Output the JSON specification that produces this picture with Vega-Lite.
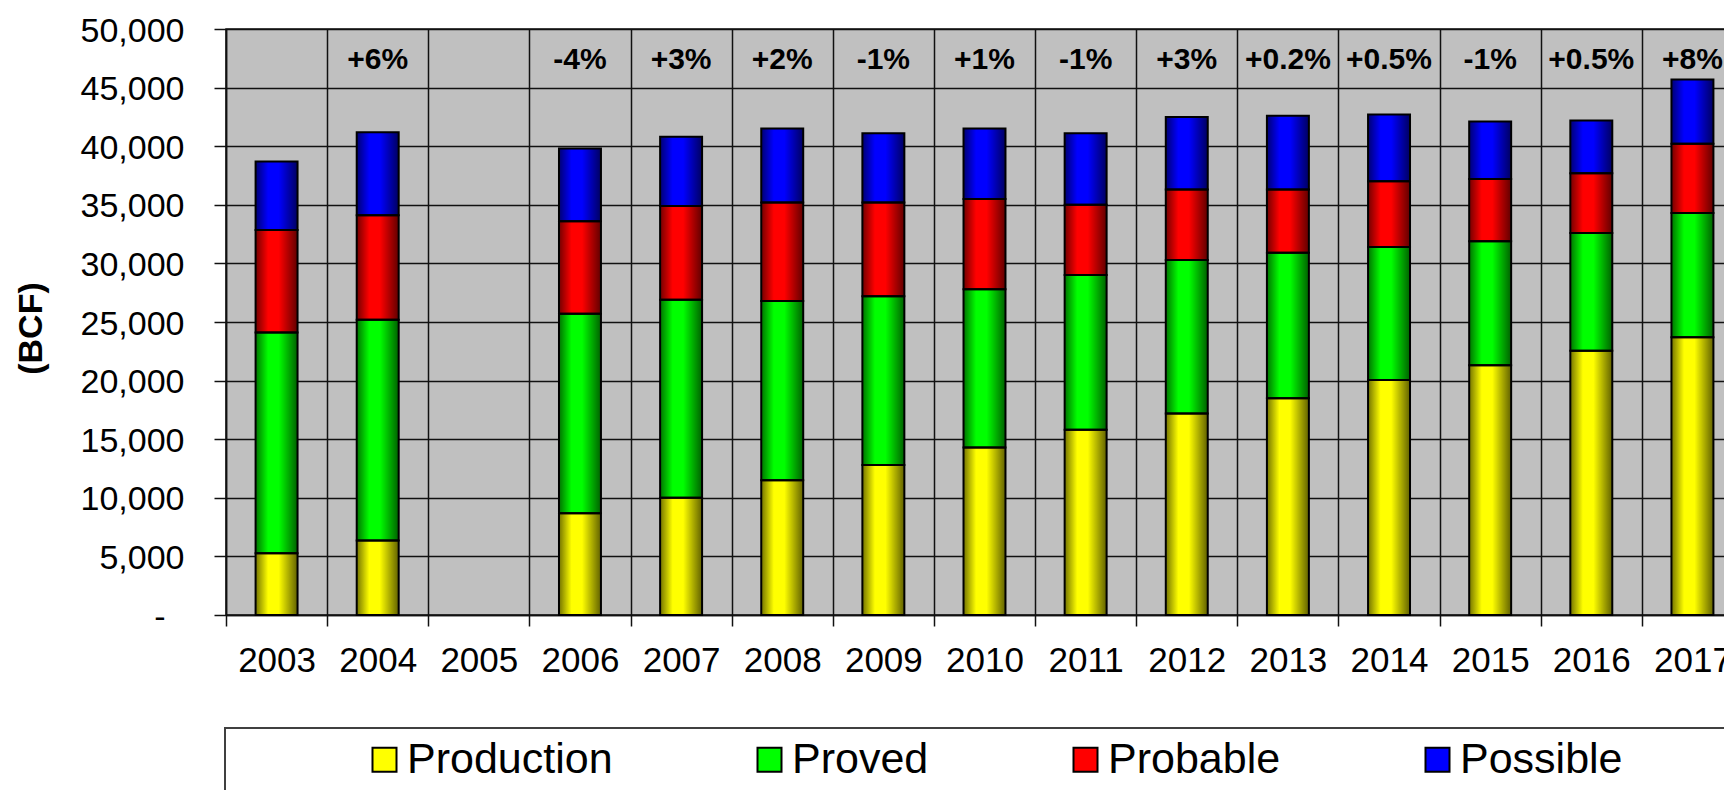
{
  "$schema": "https://vega.github.io/schema/vega-lite/v6.json",
  "autosize": {"type": "none"},
  "padding": {"left": 226, "top": 29, "right": 0, "bottom": 175},
  "width": 1517,
  "height": 586,
  "background": "white",
  "config": {
    "font": "Liberation Sans",
    "view": {"stroke": "#111", "strokeWidth": 1.5, "fill": "#C0C0C0"},
    "legend": {"strokeWidth": 2}
  },
  "datasets": {
    "types": [
      {"type": "Production", "rank": 1},
      {"type": "Proved", "rank": 2},
      {"type": "Probable", "rank": 3},
      {"type": "Possible", "rank": 4}
    ],
    "reserves": [
      {"year": "2003", "type": "Production", "value": 5260},
      {"year": "2003", "type": "Proved", "value": 18840},
      {"year": "2003", "type": "Probable", "value": 8750},
      {"year": "2003", "type": "Possible", "value": 5850},
      {"year": "2004", "type": "Production", "value": 6350},
      {"year": "2004", "type": "Proved", "value": 18850},
      {"year": "2004", "type": "Probable", "value": 8900},
      {"year": "2004", "type": "Possible", "value": 7100},
      {"year": "2006", "type": "Production", "value": 8680},
      {"year": "2006", "type": "Proved", "value": 17020},
      {"year": "2006", "type": "Probable", "value": 7900},
      {"year": "2006", "type": "Possible", "value": 6200},
      {"year": "2007", "type": "Production", "value": 10000},
      {"year": "2007", "type": "Proved", "value": 16900},
      {"year": "2007", "type": "Probable", "value": 8000},
      {"year": "2007", "type": "Possible", "value": 5900},
      {"year": "2008", "type": "Production", "value": 11500},
      {"year": "2008", "type": "Proved", "value": 15300},
      {"year": "2008", "type": "Probable", "value": 8400},
      {"year": "2008", "type": "Possible", "value": 6300},
      {"year": "2009", "type": "Production", "value": 12800},
      {"year": "2009", "type": "Proved", "value": 14400},
      {"year": "2009", "type": "Probable", "value": 8000},
      {"year": "2009", "type": "Possible", "value": 5900},
      {"year": "2010", "type": "Production", "value": 14300},
      {"year": "2010", "type": "Proved", "value": 13500},
      {"year": "2010", "type": "Probable", "value": 7700},
      {"year": "2010", "type": "Possible", "value": 6000},
      {"year": "2011", "type": "Production", "value": 15800},
      {"year": "2011", "type": "Proved", "value": 13200},
      {"year": "2011", "type": "Probable", "value": 6000},
      {"year": "2011", "type": "Possible", "value": 6100},
      {"year": "2012", "type": "Production", "value": 17200},
      {"year": "2012", "type": "Proved", "value": 13100},
      {"year": "2012", "type": "Probable", "value": 6000},
      {"year": "2012", "type": "Possible", "value": 6200},
      {"year": "2013", "type": "Production", "value": 18500},
      {"year": "2013", "type": "Proved", "value": 12400},
      {"year": "2013", "type": "Probable", "value": 5400},
      {"year": "2013", "type": "Possible", "value": 6300},
      {"year": "2014", "type": "Production", "value": 20050},
      {"year": "2014", "type": "Proved", "value": 11350},
      {"year": "2014", "type": "Probable", "value": 5600},
      {"year": "2014", "type": "Possible", "value": 5700},
      {"year": "2015", "type": "Production", "value": 21300},
      {"year": "2015", "type": "Proved", "value": 10600},
      {"year": "2015", "type": "Probable", "value": 5300},
      {"year": "2015", "type": "Possible", "value": 4900},
      {"year": "2016", "type": "Production", "value": 22550},
      {"year": "2016", "type": "Proved", "value": 10050},
      {"year": "2016", "type": "Probable", "value": 5100},
      {"year": "2016", "type": "Possible", "value": 4500},
      {"year": "2017", "type": "Production", "value": 23700},
      {"year": "2017", "type": "Proved", "value": 10600},
      {"year": "2017", "type": "Probable", "value": 5900},
      {"year": "2017", "type": "Possible", "value": 5500}
    ],
    "changes": [
      {"year": "2004", "change": "+6%"},
      {"year": "2006", "change": "-4%"},
      {"year": "2007", "change": "+3%"},
      {"year": "2008", "change": "+2%"},
      {"year": "2009", "change": "-1%"},
      {"year": "2010", "change": "+1%"},
      {"year": "2011", "change": "-1%"},
      {"year": "2012", "change": "+3%"},
      {"year": "2013", "change": "+0.2%"},
      {"year": "2014", "change": "+0.5%"},
      {"year": "2015", "change": "-1%"},
      {"year": "2016", "change": "+0.5%"},
      {"year": "2017", "change": "+8%"}
    ]
  },
  "encoding": {
    "x": {
      "field": "year",
      "type": "ordinal",
      "scale": {
        "domain": ["2003","2004","2005","2006","2007","2008","2009","2010","2011","2012","2013","2014","2015","2016","2017"],
        "paddingInner": 0,
        "paddingOuter": 0
      },
      "axis": {
        "title": null,
        "tickBand": "extent",
        "grid": true,
        "gridColor": "#111",
        "gridWidth": 1.5,
        "gridOpacity": 1,
        "tickColor": "#111",
        "tickSize": 11,
        "tickWidth": 1.5,
        "domainColor": "#111",
        "domainWidth": 1.5,
        "labelFont": "Liberation Sans",
        "labelFontSize": 35,
        "labelColor": "black",
        "labelPadding": 17,
        "labelAngle": 0,
        "labelOverlap": false,
        "labelBound": false
      }
    }
  },
  "layer": [
    {
      "data": {"name": "reserves"},
      "transform": [
        {"lookup": "type", "from": {"data": {"name": "types"}, "key": "type", "fields": ["rank"]}}
      ],
      "encoding": {
        "y": {
          "field": "value",
          "type": "quantitative",
          "stack": "zero",
          "scale": {"domain": [0, 50000], "nice": false, "zero": true},
          "axis": {
            "title": "(BCF)",
            "titleFont": "Liberation Sans",
            "titleFontSize": 34,
            "titleFontWeight": "bold",
            "titleColor": "black",
            "titlePadding": 32,
            "titleY": 299,
            "values": [0, 5000, 10000, 15000, 20000, 25000, 30000, 35000, 40000, 45000, 50000],
            "grid": true,
            "gridColor": "#111",
            "gridWidth": 1.5,
            "gridOpacity": 1,
            "tickColor": "#111",
            "tickSize": 12,
            "tickWidth": 1.5,
            "domainColor": "#111",
            "domainWidth": 1.5,
            "labelFont": "Liberation Sans",
            "labelFontSize": 34,
            "labelColor": "black",
            "labelPadding": {"condition": {"test": "datum.value === 0", "value": 49}, "value": 30},
            "labelOffset": 2,
            "labelExpr": "datum.value === 0 ? '-' : format(datum.value, ',')"
          }
        },
        "order": {"field": "rank", "type": "quantitative"}
      },
      "layer": [
        {
          "mark": {"type": "bar", "width": {"band": 0.415}},
          "encoding": {
            "color": {
              "field": "type",
              "type": "nominal",
              "sort": ["Production", "Proved", "Probable", "Possible"],
              "scale": {
                "domain": ["Production", "Proved", "Probable", "Possible"],
                "range": ["#FFFF00", "#00FF00", "#FF0000", "#0000FF"]
              },
              "legend": {
                "orient": "none",
                "legendX": -1,
                "legendY": 699,
                "direction": "horizontal",
                "title": "\u00a0",
                "titleOrient": "right",
                "titlePadding": 120,
                "titleFontSize": 10,
                "symbolType": "square",
                "symbolSize": 576,
                "symbolStrokeColor": "black",
                "symbolStrokeWidth": 2,
                "symbolOpacity": 1,
                "symbolOffset": 128,
                "labelOffset": 1,
                "columnPadding": 7,
                "labelFont": "Liberation Sans",
                "labelFontSize": 43,
                "labelColor": "black",
                "labelLimit": 400,
                "padding": 10,
                "strokeColor": "#404040"
              }
            }
          }
        },
        {
          "mark": {
            "type": "bar",
            "width": {"band": 0.415},
            "color": {
              "gradient": "linear",
              "x1": 0, "x2": 1, "y1": 0, "y2": 0,
              "stops": [
                {"offset": 0, "color": "rgba(0,0,0,0.55)"},
                {"offset": 0.3, "color": "rgba(0,0,0,0)"},
                {"offset": 0.55, "color": "rgba(0,0,0,0)"},
                {"offset": 1, "color": "rgba(0,0,0,0.62)"}
              ]
            },
            "stroke": "black",
            "strokeWidth": 2
          },
          "encoding": {
            "detail": {"field": "type", "type": "nominal"}
          }
        }
      ]
    },
    {
      "data": {"name": "changes"},
      "mark": {"type": "text", "font": "Liberation Sans", "fontWeight": "bold", "fontSize": 30, "baseline": "alphabetic", "align": "center", "color": "black"},
      "encoding": {
        "y": {"datum": 46600, "type": "quantitative"},
        "text": {"field": "change", "type": "nominal"}
      }
    }
  ]
}
